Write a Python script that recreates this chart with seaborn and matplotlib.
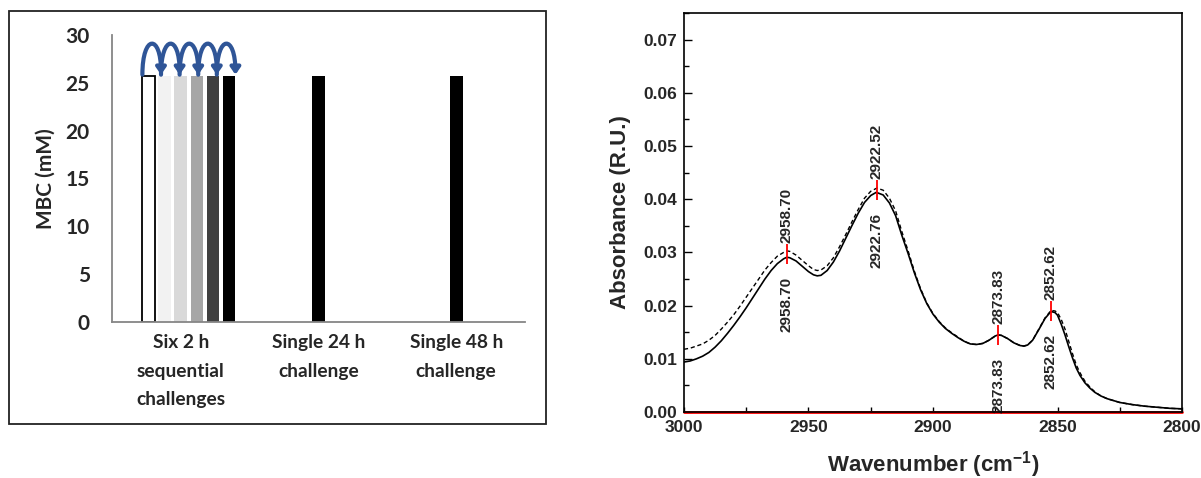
import numpy as np
import pandas as pd
import matplotlib
matplotlib.use("Agg")
import matplotlib.pyplot as plt
import matplotlib.font_manager as fm
import seaborn as sns
from matplotlib.patches import FancyArrowPatch, Rectangle
from matplotlib.path import Path
from matplotlib.ticker import MultipleLocator, FormatStrFormatter

# ---------------- data: left panel (MBC) ----------------
categories = ["Six 2 h\nsequential\nchallenges", "Single 24 h\nchallenge", "Single 48 h\nchallenge"]
seq_series = ["2 h #1", "2 h #2", "2 h #3", "2 h #4", "2 h #5", "2 h #6"]
seq_values = [25.7, 25.7, 25.7, 25.7, 25.7, 25.7]
single_names = ["Single 24 h", "Single 48 h"]
single_values = [25.7, 25.7]
y_ticks_left = [0, 5, 10, 15, 20, 25, 30]

# ---------------- data: right panel (spectra) ----------------
wn_solid = [3000, 2997.5, 2995, 2992.5, 2990, 2987.5, 2985, 2982.5, 2980, 2977.5, 2975, 2972.5,
            2970, 2967.5, 2965, 2962.5, 2960, 2958.7, 2957.5, 2955, 2952.5, 2950, 2948, 2946.5,
            2945, 2942.5, 2940, 2937.5, 2935, 2932.5, 2930, 2927.5, 2925, 2922.76, 2920, 2917.5,
            2915, 2912.5, 2910, 2907.5, 2905, 2902.5, 2900, 2897.5, 2895, 2892.5, 2890, 2887.5,
            2885, 2882.5, 2880, 2877.5, 2875, 2873.83, 2872.5, 2870, 2867.5, 2865, 2863.5, 2862,
            2860, 2857.5, 2855, 2852.62, 2851, 2850, 2848.5, 2847, 2845.5, 2844, 2842.5, 2841,
            2839, 2837, 2835, 2832.5, 2830, 2825, 2820, 2815, 2810, 2805, 2800]
abs_solid = [0.0094, 0.0096, 0.0100, 0.0105, 0.0112, 0.0122, 0.0134, 0.0148, 0.0163, 0.0179,
             0.0196, 0.0214, 0.0232, 0.0250, 0.0266, 0.0279, 0.0288, 0.0291, 0.0290, 0.0284,
             0.0274, 0.0264, 0.0258, 0.0256, 0.0257, 0.0266, 0.0282, 0.0303, 0.0327, 0.0351,
             0.0374, 0.0394, 0.0407, 0.0413, 0.0408, 0.0393, 0.0369, 0.0332, 0.0298, 0.0262,
             0.0230, 0.0204, 0.0184, 0.0169, 0.0157, 0.0148, 0.0140, 0.0133, 0.0128, 0.0127,
             0.0129, 0.0135, 0.0143, 0.0145, 0.0144, 0.0138, 0.0130, 0.0125, 0.0124, 0.0126,
             0.0135, 0.0155, 0.0176, 0.0189, 0.0187, 0.0182, 0.0165, 0.0145, 0.0123, 0.0102,
             0.0083, 0.0069, 0.0055, 0.0045, 0.0037, 0.0030, 0.0025, 0.0018, 0.0014, 0.0011,
             0.0009, 0.0007, 0.0006]
wn_dash = [3000, 2997.5, 2995, 2992.5, 2990, 2987.5, 2985, 2982.5, 2980, 2977.5, 2975, 2972.5,
           2970, 2967.5, 2965, 2962.5, 2960, 2958.7, 2957.5, 2955, 2952.5, 2950, 2948, 2946.5,
           2945, 2942.5, 2940, 2937.5, 2935, 2932.5, 2930, 2927.5, 2925, 2922.52, 2920, 2917.5,
           2915, 2912.5, 2910, 2907.5, 2905, 2902.5, 2900, 2897.5, 2895, 2892.5, 2890, 2887.5,
           2885, 2882.5, 2880, 2877.5, 2875, 2873.83, 2872.5, 2870, 2867.5, 2865, 2863.5, 2862,
           2860, 2857.5, 2855, 2852.62, 2851, 2850, 2848.5, 2847, 2845.5, 2844, 2842.5, 2841,
           2839, 2837, 2835, 2832.5, 2830, 2825, 2820, 2815, 2810, 2805, 2800]
abs_dash = [0.0118, 0.0120, 0.0124, 0.0128, 0.0135, 0.0144, 0.0156, 0.0169, 0.0183, 0.0199,
            0.0216, 0.0233, 0.0250, 0.0267, 0.0281, 0.0293, 0.0300, 0.0303, 0.0302, 0.0295,
            0.0285, 0.0275, 0.0268, 0.0266, 0.0267, 0.0275, 0.0290, 0.0311, 0.0334, 0.0358,
            0.0381, 0.0402, 0.0415, 0.0421, 0.0417, 0.0402, 0.0378, 0.0339, 0.0303, 0.0265,
            0.0232, 0.0205, 0.0185, 0.0170, 0.0158, 0.0149, 0.0141, 0.0133, 0.0128, 0.0127,
            0.0129, 0.0135, 0.0143, 0.0145, 0.0144, 0.0138, 0.0130, 0.0125, 0.0124, 0.0126,
            0.0135, 0.0156, 0.0177, 0.0191, 0.0190, 0.0187, 0.0174, 0.0156, 0.0133, 0.0110,
            0.0089, 0.0074, 0.0058, 0.0047, 0.0038, 0.0030, 0.0025, 0.0018, 0.0014, 0.0011,
            0.0009, 0.0007, 0.0006]
peak_wn_upper = [2958.70, 2922.52, 2873.83, 2852.62]
peak_lbl_upper = ["2958.70", "2922.52", "2873.83", "2852.62"]
peak_wn_lower = [2958.70, 2922.76, 2873.83, 2852.62]
peak_lbl_lower = ["2958.70", "2922.76", "2873.83", "2852.62"]
peak_abs_upper = [0.0303, 0.0421, 0.0145, 0.0191]
peak_abs_lower = [0.0291, 0.0413, 0.0145, 0.0189]

# ---------------- style ----------------
sns.set_style("white")


def pick_bold_family(candidates):
    for name in candidates:
        for f in fm.fontManager.ttflist:
            w = f.weight
            if isinstance(w, str):
                w = {"bold": 700, "semibold": 600, "demibold": 600, "heavy": 800,
                     "extra bold": 800, "black": 900}.get(w, 400)
            if f.name == name and w >= 600 and f.style == "normal":
                return name
    return "Liberation Sans"


CAL_NAME = pick_bold_family(["Lato", "Open Sans", "Noto Sans", "Roboto", "Inter"])
CALIBRI = [CAL_NAME, "DejaVu Sans"]
ARIAL = ["Liberation Sans", "DejaVu Sans"]
plt.rcParams["font.family"] = CALIBRI
plt.rcParams["mathtext.fontset"] = "custom"
plt.rcParams["mathtext.rm"] = "Liberation Sans:bold"
plt.rcParams["mathtext.bf"] = "Liberation Sans:bold"
plt.rcParams["mathtext.default"] = "bf"

fig = plt.figure(figsize=(12.01, 4.78), dpi=100)

# ---------------- left panel ----------------
axL = fig.add_axes([0.0933, 0.3264, 0.3439, 0.6004])
pitch = 0.1165
seq_pos = [0 + (i - 2) * pitch for i in range(len(seq_values))]
df = pd.DataFrame({
    "x": seq_pos + [1.0, 2.0],
    "y": seq_values + single_values,
    "series": seq_series + single_names,
})
bar_colors = ["#ffffff", "#f2f2f2", "#d9d9d9", "#a6a6a6", "#404040", "#000000", "#000000", "#000000"]
palette = dict(zip(df["series"], bar_colors))
sns.barplot(data=df, x="x", y="y", hue="series", palette=palette, native_scale=True,
            dodge=False, legend=False, errorbar=None, saturation=1, width=0.8, ax=axL)
for p in axL.patches:
    fc = p.get_facecolor()
    if fc[0] > 0.99 and fc[1] > 0.99 and fc[2] > 0.99:
        p.set_edgecolor("black")
        p.set_linewidth(1.3)
    else:
        p.set_edgecolor("none")

axL.set_xlim(-0.5, 2.5)
axL.set_ylim(0, 30)
axL.set_xticks([0, 1, 2])
axL.set_xticklabels(categories, fontsize=13.8, fontweight="bold", family=CALIBRI, linespacing=1.8)
axL.set_yticks(y_ticks_left)
axL.set_yticklabels([str(v) for v in y_ticks_left], fontsize=15, fontweight="bold", family=CALIBRI)
axL.tick_params(axis="both", length=0)
axL.tick_params(axis="y", pad=16)
axL.tick_params(axis="x", pad=9)
axL.set_xlabel("")
axL.set_ylabel("MBC (mM)", fontsize=15, fontweight="bold", family=CALIBRI, labelpad=7)
for s in ["top", "right"]:
    axL.spines[s].set_visible(False)
for s in ["left", "bottom"]:
    axL.spines[s].set_color("#868686")
    axL.spines[s].set_linewidth(1.3)

# sequential-challenge arrows above the six bars
bw = 0.8 * pitch
x_left = seq_pos[0] - bw / 2
x_right = seq_pos[-1] + bw / 2
step = (x_right - x_left) / (len(seq_values) - 1)
for i in range(len(seq_values) - 1):
    x0 = x_left + i * step
    x1 = x0 + step
    y0 = seq_values[i] + 0.15
    h = 3.2
    path = Path([(x0, y0), (x0, y0 + 4 / 3 * h), (x1, y0 + 4 / 3 * h), (x1, y0)],
                [Path.MOVETO, Path.CURVE4, Path.CURVE4, Path.CURVE4])
    arr = FancyArrowPatch(path=path, arrowstyle="-|>,head_length=0.4,head_width=0.28",
                          mutation_scale=10, color="#2F5597", lw=3.0, clip_on=False, zorder=5)
    axL.add_patch(arr)

# frame around left panel
fig.patches.append(Rectangle((9 / 1201, 1 - 424 / 478), 537 / 1201, 413 / 478,
                             transform=fig.transFigure, fill=False, edgecolor="#222222", lw=1.3))

# ---------------- right panel ----------------
axR = fig.add_axes([0.5695, 0.138, 0.4147, 0.8347])
axR.axhline(0, color="red", lw=2.0, zorder=1.5, clip_on=False)
sns.lineplot(x=wn_solid, y=abs_solid, color="black", lw=1.2, estimator=None, sort=False, ax=axR)
sns.lineplot(x=wn_dash, y=abs_dash, color="black", lw=1.0, estimator=None, sort=False,
             dashes=(3, 2), ax=axR)
axR.set_xlim(3000, 2800)
axR.set_ylim(0, 0.075)
axR.xaxis.set_major_locator(MultipleLocator(50))
axR.xaxis.set_minor_locator(MultipleLocator(25))
axR.yaxis.set_major_locator(MultipleLocator(0.01))
axR.yaxis.set_minor_locator(MultipleLocator(0.005))
axR.yaxis.set_major_formatter(FormatStrFormatter("%.2f"))
axR.xaxis.set_major_formatter(FormatStrFormatter("%d"))
axR.tick_params(axis="both", which="both", direction="in", top=False, right=False,
                bottom=True, left=True, width=1.0, color="black")
axR.tick_params(axis="y", which="major", length=6, pad=5)
axR.tick_params(axis="y", which="minor", length=3.5)
axR.tick_params(axis="x", which="both", length=3.5, pad=6)
for lbl in axR.get_xticklabels() + axR.get_yticklabels():
    lbl.set_fontsize(12.5)
    lbl.set_fontweight("bold")
    lbl.set_family(ARIAL)
for s in axR.spines.values():
    s.set_visible(True)
    s.set_color("black")
    s.set_linewidth(1.2)
    s.set_zorder(3)
axR.set_xlabel("Wavenumber (cm$^{-1}$)", fontsize=16, fontweight="bold", family=ARIAL, labelpad=10)
axR.set_ylabel("Absorbance (R.U.)", fontsize=16, fontweight="bold", family=ARIAL, labelpad=9)

half = 0.0019
for wu, lu, au, wl, ll, al in zip(peak_wn_upper, peak_lbl_upper, peak_abs_upper,
                                  peak_wn_lower, peak_lbl_lower, peak_abs_lower):
    mid = (au + al) / 2
    axR.vlines(wu, mid - half, mid + half, color="red", lw=1.3, zorder=4)
    axR.text(wu, mid + half + 0.0002, lu, rotation=90, ha="center", va="bottom",
             fontsize=11, fontweight="bold", family=ARIAL)
    axR.text(wl, mid - half - 0.0024, ll, rotation=90, ha="center", va="top",
             fontsize=11, fontweight="bold", family=ARIAL)

fig.savefig("out.png", dpi=100)
